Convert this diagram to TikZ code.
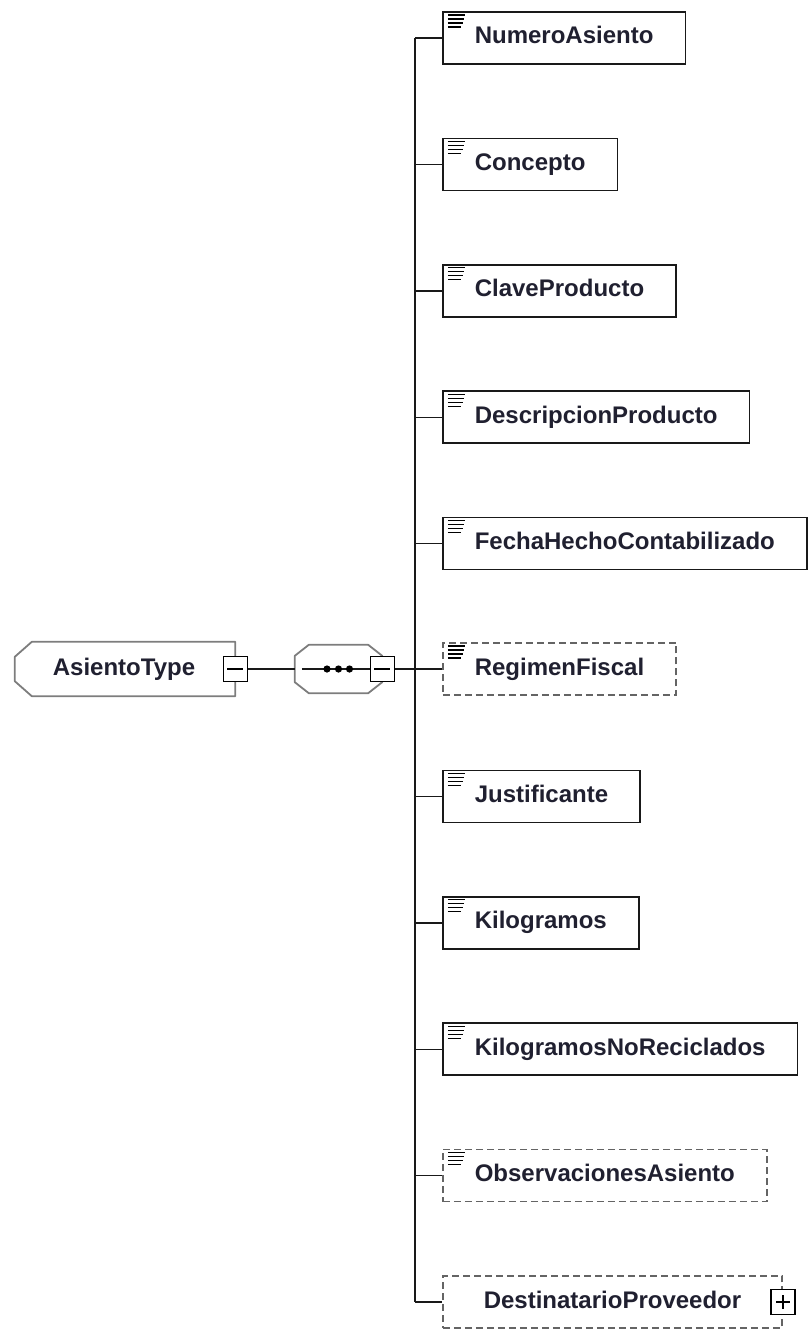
\documentclass[tikz,border=0pt]{standalone}
\usepackage{fontspec}
\setmainfont{Liberation Sans}
\definecolor{labelink}{RGB}{32,32,48}
\definecolor{typegrey}{RGB}{125,125,125}
\definecolor{optgrey}{RGB}{100,100,100}
\begin{document}
\begin{tikzpicture}[x=1pt,y=-1pt,
  every node/.style={font=\fontsize{24}{28}\selectfont\bfseries, text=labelink},
  elembox/.style={draw=black!90, line width=1.6pt, fill=white, anchor=west,
    minimum height=52pt, inner xsep=32pt, text height=17pt, text depth=5pt,
    path picture={
      \draw[solid, draw=black, line width=1.3pt]
        ([xshift=5pt,yshift=-3pt]path picture bounding box.north west) -- ++(17,0)
        ([xshift=5pt,yshift=-7pt]path picture bounding box.north west) -- ++(16,0)
        ([xshift=5pt,yshift=-11pt]path picture bounding box.north west) -- ++(15,0)
        ([xshift=5pt,yshift=-15pt]path picture bounding box.north west) -- ++(13,0);
    }},
  optbox/.style={elembox, draw=optgrey, dash pattern=on 7pt off 4pt},
  refbox/.style={draw=optgrey, line width=1.6pt, dash pattern=on 7pt off 4pt, fill=white,
    anchor=west, minimum height=52pt, inner xsep=41pt, text height=17pt, text depth=5pt},
  minusbox/.style={draw=black, fill=white, line width=1.3pt, minimum width=24pt,
    minimum height=25pt, inner sep=0pt,
    path picture={\draw[line width=1.2pt] ([xshift=-8pt]path picture bounding box.center) -- ++(16,0);}},
  plusbox/.style={minusbox,
    path picture={\draw[line width=1.2pt] ([xshift=-7pt]path picture bounding box.center) -- ++(14,0)
      ([yshift=7pt]path picture bounding box.center) -- ++(0,14);}},
  outline/.style={draw=typegrey, line width=1.8pt, fill=white, line join=round},
  link/.style={draw=black!90, line width=1.4pt}
]
\useasboundingbox (0,0) rectangle (811,1330);

\node[minimum width=220pt, minimum height=54pt, inner sep=0pt,
  text height=17pt, text depth=5pt] (asiento) at (125,669) {};
\draw[outline] (asiento.north east) -- ([xshift=17pt]asiento.north west)
  -- ([yshift=-15pt]asiento.north west) -- ([yshift=15pt]asiento.south west)
  -- ([xshift=17pt]asiento.south west) -- (asiento.south east) -- cycle;
\node at ([xshift=-1pt]asiento.center) {AsientoType};
\node[minusbox] (asientominus) at (asiento.east) {};

\node[minimum width=87pt, minimum height=48pt, inner sep=0pt] (seq) at (338.5,669) {};
\draw[outline] ([xshift=14pt]seq.north west) -- ([xshift=-14pt]seq.north east)
  -- ([yshift=-11pt]seq.north east) -- ([yshift=11pt]seq.south east)
  -- ([xshift=-14pt]seq.south east) -- ([xshift=14pt]seq.south west)
  -- ([yshift=11pt]seq.south west) -- ([yshift=-11pt]seq.north west) -- cycle;
\draw[link] ([xshift=7pt]seq.west) -- (seq.east);
\fill[black] ([xshift=-11.5pt]seq.center) circle (3.6)
  (seq.center) circle (3.6) ([xshift=11pt]seq.center) circle (3.6);
\node[minusbox] (seqminus) at (seq.east) {};

\coordinate (bus) at (415,669);

\node[elembox] (numero) at (442,38) {NumeroAsiento};
\node[elembox] (concepto) at (442,164.4) {Concepto};
\node[elembox] (clave) at (442,290.8) {ClaveProducto};
\node[elembox] (descripcion) at (442,417.2) {DescripcionProducto};
\node[elembox] (fecha) at (442,543.6) {FechaHechoContabilizado};
\node[optbox] (regimen) at (442,669) {RegimenFiscal};
\node[elembox] (justificante) at (442,796.4) {Justificante};
\node[elembox] (kilos) at (442,922.8) {Kilogramos};
\node[elembox] (kilosno) at (442,1049.2) {KilogramosNoReciclados};
\node[optbox] (observaciones) at (442,1175.6) {ObservacionesAsiento};
\node[refbox] (destinatario) at (442,1302) {DestinatarioProveedor};
\node[plusbox] (destplus) at (destinatario.east) {};

\draw[link] (asientominus) -- (seq);
\draw[link] (seqminus) -- (bus);
\draw[link] (bus |- numero.west) -- (bus |- destinatario.west);
\draw[link] (bus |- numero.west) -- (numero.west)
  (bus |- concepto.west) -- (concepto.west)
  (bus |- clave.west) -- (clave.west)
  (bus |- descripcion.west) -- (descripcion.west)
  (bus |- fecha.west) -- (fecha.west)
  (bus) -- (regimen.west)
  (bus |- justificante.west) -- (justificante.west)
  (bus |- kilos.west) -- (kilos.west)
  (bus |- kilosno.west) -- (kilosno.west)
  (bus |- observaciones.west) -- (observaciones.west)
  (bus |- destinatario.west) -- (destinatario.west);
\end{tikzpicture}
\end{document}
